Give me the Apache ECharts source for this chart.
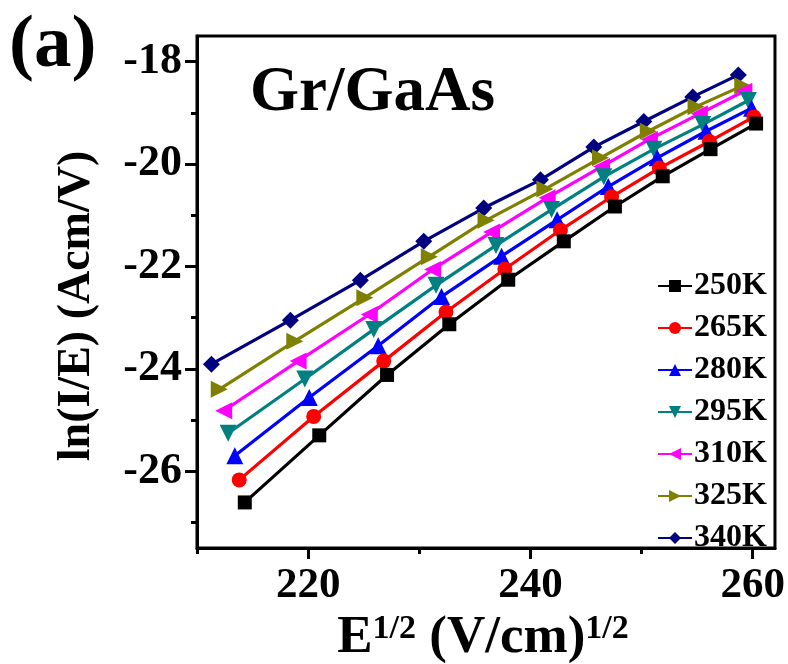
<!DOCTYPE html>
<html>
<head>
<meta charset="utf-8">
<script src="https://cdn.jsdelivr.net/npm/echarts@6/dist/echarts.min.js"></script>
<style>
  html, body { margin: 0; padding: 0; background: #fff; }
  #chart { width: 788px; height: 664px; }
</style>
</head>
<body>
<div id="chart"></div>
<script>
// series names
const temps = ['250K', '265K', '280K', '295K', '310K', '325K', '340K'];

// E^(1/2) values per temperature
const x250 = [214.3, 221.0, 227.1, 232.7, 238.0, 243.0, 247.6, 251.9, 256.2, 260.3];
const x265 = [213.8, 220.5, 226.8, 232.4, 237.7, 242.7, 247.3, 251.6, 256.1, 260.1];
const x280 = [213.4, 220.1, 226.3, 232.0, 237.4, 242.4, 247.0, 251.4, 255.8, 259.9];
const x295 = [212.8, 219.7, 225.9, 231.5, 236.9, 241.9, 246.6, 251.1, 255.5, 259.6];
const x310 = [212.4, 219.1, 225.5, 231.2, 236.5, 241.5, 246.4, 250.7, 255.2, 259.2];
const x325 = [212.0, 218.8, 225.1, 230.9, 236.0, 241.3, 246.3, 250.6, 254.9, 259.1];
const x340 = [211.3, 218.4, 224.7, 230.4, 235.8, 240.9, 245.7, 250.2, 254.6, 258.7];

// ln(I/E) values per temperature
const y250 = [-26.61, -25.30, -24.12, -23.13, -22.26, -21.51, -20.83, -20.24, -19.71, -19.21];
const y265 = [-26.17, -24.93, -23.85, -22.89, -22.05, -21.29, -20.64, -20.08, -19.56, -19.08];
const y280 = [-25.70, -24.56, -23.55, -22.59, -21.80, -21.09, -20.44, -19.88, -19.36, -18.91];
const y295 = [-25.26, -24.20, -23.23, -22.37, -21.59, -20.89, -20.25, -19.71, -19.23, -18.76];
const y310 = [-24.82, -23.85, -22.94, -22.06, -21.33, -20.66, -20.05, -19.52, -19.02, -18.58];
const y325 = [-24.40, -23.46, -22.61, -21.81, -21.10, -20.49, -19.88, -19.36, -18.88, -18.47];
const y340 = [-23.91, -23.05, -22.27, -21.51, -20.86, -20.31, -19.67, -19.17, -18.69, -18.26];

// tick positions
const xMajor = [220, 240, 260];
const xMinor = [210, 230, 250];
const yMajor = [-26, -24, -22, -20, -18];
const yMinor = [-27, -25, -23, -21, -19];

const xs = [x250, x265, x280, x295, x310, x325, x340];
const ys = [y250, y265, y280, y295, y310, y325, y340];

const colors = ['#000000', '#ff0000', '#0000ff', '#008080', '#ff00ff', '#808000', '#000080'];
const symbols = ['rect', 'circle', 'triangle', 'triangle', 'triangle', 'triangle', 'diamond'];
const rotations = [0, 0, 0, 180, 90, -90, 0];
const sizes = [14, 15, 17, 17, 17, 17, 17];

const font = '"Liberation Serif", "Times New Roman", serif';

const chart = echarts.init(document.getElementById('chart'));

const series = temps.map(function (name, i) {
    return {
        name: name,
        type: 'line',
        xAxisIndex: 0,
        yAxisIndex: 0,
        data: xs[i].map(function (x, j) { return [x, ys[i][j]]; }),
        symbol: symbols[i],
        symbolRotate: rotations[i],
        symbolSize: sizes[i],
        lineStyle: { color: colors[i], width: 3.2 },
        itemStyle: { color: colors[i] },
        z: 10 - i
    };
});

const axisBase = {
    type: 'value',
    splitLine: { show: false },
    axisLine: { show: true, lineStyle: { color: '#000', width: 3 } }
};

const option = {
    animation: false,
    grid: {
        left: 197, top: 36, right: 13, bottom: 116,
        show: true, borderColor: '#000', borderWidth: 3
    },
    xAxis: [
        Object.assign({}, axisBase, {
            min: 210, max: 262,
            axisTick: { show: true, inside: false, length: 11, customValues: xMajor, lineStyle: { color: '#000', width: 3 } },
            axisLabel: {
                customValues: xMajor, margin: 16,
                fontFamily: font, fontWeight: 'bold', fontSize: 43, color: '#000'
            }
        }),
        Object.assign({}, axisBase, {
            min: 210, max: 262, position: 'bottom',
            axisLine: { show: false },
            axisTick: { show: true, inside: false, length: 6, customValues: xMinor, lineStyle: { color: '#000', width: 3 } },
            axisLabel: { show: false }
        })
    ],
    yAxis: [
        Object.assign({}, axisBase, {
            min: -27.5, max: -17.5,
            axisTick: { show: true, inside: false, length: 12, customValues: yMajor, lineStyle: { color: '#000', width: 3 } },
            axisLabel: {
                customValues: yMajor, margin: 15,
                fontFamily: font, fontWeight: 'bold', fontSize: 44, color: '#000'
            }
        }),
        Object.assign({}, axisBase, {
            min: -27.5, max: -17.5, position: 'left',
            axisLine: { show: false },
            axisTick: { show: true, inside: false, length: 6, customValues: yMinor, lineStyle: { color: '#000', width: 3 } },
            axisLabel: { show: false }
        })
    ],
    legend: {
        orient: 'vertical',
        left: 652, top: 265,
        itemWidth: 34, itemHeight: 15, itemGap: 10,
        data: temps,
        textStyle: {
            fontFamily: font, fontWeight: 'bold', fontSize: 32, color: '#000',
            lineHeight: 32, padding: [0, 0, 0, -3]
        }
    },
    graphic: [
        {
            type: 'text', left: 9, top: 9,
            style: { text: '(a)', font: 'bold 75px ' + font, fill: '#000' }
        },
        {
            type: 'text', left: 250, top: 62,
            style: { text: 'Gr/GaAs', font: 'bold 63px ' + font, fill: '#000' }
        },
        {
            type: 'text', x: 77, y: 306, rotation: Math.PI / 2,
            style: {
                text: 'ln(I/E) (Acm/V)', font: 'bold 46px ' + font, fill: '#000',
                align: 'center', verticalAlign: 'middle'
            }
        },
        {
            type: 'text', x: 483, y: 612,
            style: {
                text: '{b|E}{s|1/2}{b| (V/cm)}{s|1/2}',
                align: 'center',
                rich: {
                    b: { fontFamily: font, fontWeight: 'bold', fontSize: 53, color: '#000', verticalAlign: 'bottom' },
                    s: { fontFamily: font, fontWeight: 'bold', fontSize: 34, color: '#000', verticalAlign: 'top', padding: [0, 0, 18, 0] }
                }
            }
        }
    ],
    series: series
};

chart.setOption(option);
</script>
</body>
</html>
